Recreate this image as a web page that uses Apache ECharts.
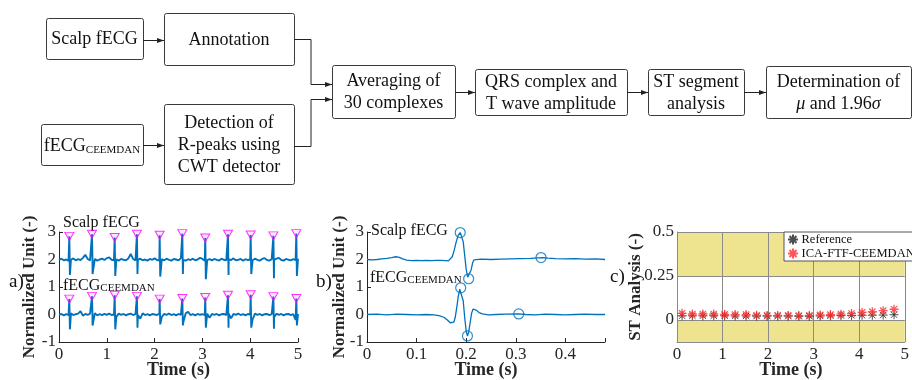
<!DOCTYPE html>
<html>
<head>
<meta charset="UTF-8">
<title>fECG ST analysis</title>
<script src="https://cdn.jsdelivr.net/npm/echarts@6/dist/echarts.min.js"></script>
<style>
    html, body { margin: 0; padding: 0; background: #fff; }
    #chart { width: 912px; height: 380px; }
</style>
</head>
<body>

<div id="chart"></div>

<script>
// a) 5 s of raw traces: baseline samples every 0.05 s plus the R peaks
var baseStep = 0.05;
var scalpBase = [1.98, 2.03, 1.97, 2.00, 1.95, 1.99, 2.04, 1.97, 2.01, 1.98,
    2.06, 2.17, 2.02, 1.97, 1.99, 2.02, 1.96, 2.00, 2.03, 1.98,
    2.05, 2.08, 1.99, 1.97, 2.01, 1.96, 2.02, 1.99, 1.97, 2.04,
    2.20, 2.02, 1.97, 1.99, 2.03, 1.97, 2.00, 1.96, 2.02, 1.99,
    2.04, 1.98, 1.96, 2.01, 1.97, 2.03, 1.99, 1.96, 2.02, 2.00,
    1.97, 2.05, 1.99, 1.96, 2.01, 1.98, 2.03, 1.97, 2.00, 2.06,
    2.02, 1.96, 1.98, 2.01, 1.97, 2.02, 1.99, 1.96, 2.03, 1.99,
    1.97, 2.01, 1.98, 2.04, 1.97, 1.99, 2.02, 1.96, 2.01, 1.98,
    2.00, 1.97, 2.03, 1.99, 1.96, 2.02, 2.05, 1.98, 1.96, 2.01,
    1.99, 2.03, 2.06, 1.98, 1.96, 2.02, 1.99, 1.97, 2.01, 1.98, 2.03];
var ceemdanBase = [0.00, 0.02, -0.03, 0.01, -0.02, 0.04, -0.02, 0.01, 0.03, 0.12,
    -0.04, 0.02, -0.01, 0.03, -0.02, 0.05, -0.03, 0.01, -0.02, 0.02,
    -0.01, 0.03, -0.02, 0.00, -0.08, 0.03, -0.01, 0.02, -0.03, 0.01,
    0.03, -0.02, 0.01, -0.02, -0.15, 0.04, -0.02, 0.01, -0.03, 0.02,
    0.00, -0.02, 0.03, -0.09, 0.02, -0.01, 0.03, -0.02, 0.01, -0.03,
    0.02, -0.01, -0.28, 0.04, 0.10, -0.02, 0.01, -0.03, 0.02, -0.01,
    0.01, -0.02, 0.03, -0.12, 0.02, -0.01, 0.02, -0.03, 0.01, 0.02,
    -0.02, 0.03, -0.14, 0.02, -0.01, 0.03, -0.02, 0.01, -0.03, 0.02,
    0.00, -0.18, 0.03, -0.01, 0.02, -0.03, 0.01, 0.02, -0.02, 0.01,
    -0.10, 0.03, -0.01, 0.02, -0.03, 0.01, 0.02, -0.02, 0.01, -0.20, 0.02];
var beatT = [0.216, 0.690, 1.165, 1.630, 2.106, 2.580, 3.060, 3.535, 4.010, 4.485, 4.965];
var troughT = [0.228, 0.702, 1.177, 1.642, 2.118, 2.592, 3.072, 3.547, 4.022, 4.497, 4.977];
var scalpPeak = [2.84, 2.92, 2.80, 2.92, 2.88, 2.94, 2.78, 2.92, 2.89, 2.86, 2.94];
var scalpTrough = [1.44, 1.47, 1.40, 1.47, 1.38, 1.47, 1.28, 1.44, 1.47, 1.32, 1.40];
var ceemdanPeak = [0.56, 0.66, 0.70, 0.66, 0.56, 0.58, 0.62, 0.70, 0.72, 0.65, 0.58];
var ceemdanTrough = [-0.54, -0.40, -0.54, -0.48, -0.36, -0.40, -0.48, -0.48, -0.48, -0.52, -0.40];

// b) averaged complexes [time, value]
var avgScalp = [[0, 2.0], [0.01, 1.99], [0.02, 2.0], [0.03, 2.02], [0.04, 2.04], [0.05, 2.07],
    [0.058, 2.1], [0.065, 2.08], [0.072, 2.02], [0.08, 1.98], [0.09, 1.96], [0.1, 1.97],
    [0.11, 1.96], [0.12, 1.97], [0.13, 1.96], [0.14, 1.97], [0.15, 1.97], [0.158, 1.96],
    [0.164, 1.95], [0.168, 1.98], [0.172, 2.1], [0.176, 2.35], [0.18, 2.65], [0.184, 2.88],
    [0.188, 2.98], [0.191, 2.93], [0.194, 2.65], [0.197, 2.15], [0.2, 1.65], [0.203, 1.36],
    [0.205, 1.3], [0.207, 1.36], [0.21, 1.62], [0.213, 1.88], [0.216, 1.99], [0.22, 2.02],
    [0.23, 2.01], [0.25, 2.0], [0.27, 2.01], [0.29, 2.02], [0.31, 2.03], [0.33, 2.04],
    [0.345, 2.06], [0.355, 2.07], [0.365, 2.05], [0.38, 2.03], [0.4, 2.02], [0.42, 2.03],
    [0.44, 2.01], [0.46, 2.02], [0.48, 2.0]];
var avgCeemdan = [[0, 0.0], [0.02, 0.01], [0.04, -0.01], [0.06, 0.01], [0.08, 0.0], [0.1, -0.01],
    [0.12, 0.0], [0.135, -0.01], [0.145, -0.04], [0.155, -0.1], [0.162, -0.2], [0.168, -0.3],
    [0.172, -0.33], [0.175, -0.28], [0.178, -0.1], [0.181, 0.25], [0.184, 0.65], [0.187, 0.92],
    [0.189, 0.97], [0.191, 0.9], [0.194, 0.5], [0.197, -0.1], [0.2, -0.6], [0.2026, -0.78],
    [0.205, -0.65], [0.208, -0.3], [0.211, 0.05], [0.214, 0.2], [0.217, 0.22], [0.221, 0.15],
    [0.226, 0.07], [0.233, 0.02], [0.245, -0.01], [0.26, 0.0], [0.28, 0.01], [0.306, 0.02],
    [0.32, 0.0], [0.34, -0.01], [0.36, 0.01], [0.38, 0.0], [0.4, -0.01], [0.42, 0.0],
    [0.44, 0.01], [0.46, 0.0], [0.48, 0.0]];
var avgScalpMarks = [[0.188, 2.98], [0.205, 1.3], [0.351, 2.07]];
var avgCeemdanMarks = [[0.189, 0.97], [0.2026, -0.78], [0.306, 0.02]];

// c) ST analysis
var stT = [0.112, 0.337, 0.568, 0.807, 1.046, 1.277, 1.516, 1.747, 1.979, 2.21, 2.442,
    2.674, 2.905, 3.144, 3.368, 3.6, 3.832, 4.063, 4.288, 4.526, 4.765];
var stReference = [0.024, 0.024, 0.024, 0.024, 0.024, 0.023, 0.023, 0.022, 0.022, 0.022, 0.022,
    0.021, 0.021, 0.023, 0.024, 0.025, 0.026, 0.027, 0.027, 0.028, 0.030];
var stCeemdan = [0.038, 0.034, 0.034, 0.034, 0.032, 0.031, 0.031, 0.027, 0.026, 0.026, 0.026,
    0.025, 0.026, 0.029, 0.031, 0.033, 0.037, 0.043, 0.047, 0.053, 0.061];

var serif = "'Liberation Serif', 'DejaVu Serif', serif";
var ink = '#262626';
var blue = '#0072BD';

function buildTrace(base, peakV, troughV) {
    var pts = base.map(function (v, i) { return [i * baseStep, v]; });
    beatT.forEach(function (t, i) {
        pts.push([t, peakV[i]]);
        pts.push([troughT[i], troughV[i]]);
    });
    pts.sort(function (p, q) { return p[0] - q[0]; });
    return pts;
}
function peaks(values) {
    return beatT.map(function (t, i) { return [t, values[i]]; });
}

// ---- flowchart (graphic elements) ----
var graphics = [];
function textStyle(text, size, align, rich, lh) {
    return { text: text, rich: rich, fontFamily: serif, fontSize: size, fill: '#111',
        lineHeight: lh, align: align, verticalAlign: 'middle',
        textAlign: align, textVerticalAlign: 'middle' };
}
function box(x, y, w, h, text, rich) {
    graphics.push({ type: 'rect', shape: { x: x + 0.5, y: y + 0.5, width: w, height: h, r: 2 },
        style: { fill: '#fff', stroke: '#3a3a3a', lineWidth: 1 } });
    graphics.push({ type: 'text', x: x + w / 2, y: y + h / 2 + 1, style: textStyle(text, 18, 'center', rich, 22) });
}
function arrow(points) {
    var p = points.map(function (q) { return [q[0], q[1] + 0.5]; });
    var end = p[p.length - 1];
    graphics.push({ type: 'polyline', shape: { points: p }, style: { stroke: '#222', lineWidth: 1, fill: null } });
    graphics.push({ type: 'polygon', shape: { points: [[end[0], end[1]], [end[0] - 7, end[1] - 2.5], [end[0] - 7, end[1] + 2.5]] },
        style: { fill: '#222' } });
}
function label(x, y, text, size, rich) {
    graphics.push({ type: 'text', x: x, y: y, style: textStyle(text, size, 'left', rich) });
}
function subRich(size) {
    return {
        m: { fontFamily: serif, fontSize: size, fill: '#111', lineHeight: size + 2, verticalAlign: 'bottom' },
        s: { fontFamily: serif, fontSize: 11, fill: '#111', lineHeight: size + 2, verticalAlign: 'bottom' }
    };
}

box(46, 18, 97, 41, 'Scalp fECG');
box(164, 13, 130, 52, 'Annotation');
box(41, 124, 102, 41, '{m|fECG}{s|CEEMDAN}', subRich(18));
box(164, 104, 130, 80, 'Detection of\nR-peaks using\nCWT detector');
box(332, 65, 123, 53, 'Averaging of\n30 complexes');
box(475, 69, 152, 46, 'QRS complex and\nT wave amplitude');
box(648, 69, 96, 46, 'ST segment\nanalysis');
box(766, 66, 145, 52, 'Determination of\n{i|\u03bc} and 1.96{i|\u03c3}',
    { i: { fontFamily: serif, fontSize: 18, fontStyle: 'italic', fill: '#111' } });

arrow([[143, 40], [164, 40]]);
arrow([[143, 145], [164, 145]]);
arrow([[294, 39], [311, 39], [311, 84], [332, 84]]);
arrow([[294, 146], [311, 146], [311, 99], [332, 99]]);
arrow([[455, 92], [475, 92]]);
arrow([[627, 92], [648, 92]]);
arrow([[744, 92], [766, 92]]);

label(9, 282, 'a)', 19);
label(316, 282, 'b)', 19);
label(610, 277, 'c)', 19);
label(63, 223, 'Scalp fECG', 16);
label(63, 285, '{m|fECG}{s|CEEMDAN}', 16, subRich(16));
label(371, 231, 'Scalp fECG', 16);
label(370, 277, '{m|fECG}{s|CEEMDAN}', 16, subRich(16));

// ---- axes ----
function xAx(grid, min, max, interval, fmt, extra) {
    var ax = {
        type: 'value', gridIndex: grid, min: min, max: max, interval: interval,
        name: 'Time (s)', nameLocation: 'middle', nameGap: 19, nameMoveOverlap: false,
        nameTextStyle: { fontFamily: serif, fontSize: 18, fontWeight: 'bold', color: ink },
        axisLine: { show: true, onZero: false, lineStyle: { color: ink, width: 1 } },
        axisTick: { show: true, inside: true, length: 4, lineStyle: { color: ink } },
        axisLabel: { fontFamily: serif, fontSize: 17, color: ink, margin: 4, formatter: fmt,
            showMinLabel: true, showMaxLabel: true },
        splitLine: { show: false }
    };
    return Object.assign(ax, extra || {});
}
function yAx(grid, min, max, interval, name, gap, fmt, extra) {
    var ax = {
        type: 'value', gridIndex: grid, min: min, max: max, interval: interval,
        name: name, nameLocation: 'middle', nameGap: gap, nameMoveOverlap: false,
        nameTextStyle: { fontFamily: serif, fontSize: 17, fontWeight: 'bold', color: ink },
        axisLine: { show: true, onZero: false, lineStyle: { color: ink, width: 1 } },
        axisTick: { show: true, inside: true, length: 4, lineStyle: { color: ink } },
        axisLabel: { fontFamily: serif, fontSize: 17, color: ink, margin: 3, formatter: fmt,
            showMinLabel: true, showMaxLabel: true },
        splitLine: { show: false }
    };
    return Object.assign(ax, extra || {});
}

var gridLine = '#8a8a8a';

var option = {
    animation: false,
    backgroundColor: '#fff',
    textStyle: { fontFamily: serif },
    graphic: { elements: graphics },
    grid: [
        { left: 59, top: 232, width: 239, height: 111 },
        { left: 367, top: 232, width: 238, height: 111 },
        { left: 677, top: 232, width: 237, height: 111 }
    ],
    xAxis: [
        xAx(0, 0, 5, 1, function (v) { return String(v); }),
        xAx(1, 0, 0.48, 0.1, function (v) {
            if (v === 0) return '0';
            return Math.abs(v * 10 - Math.round(v * 10)) < 1e-6 ? v.toFixed(1) : '';
        }),
        xAx(2, 0, 5, 1, function (v) { return String(v); }, {
            z: 2,
            axisLine: { show: true, onZero: false, lineStyle: { color: gridLine, width: 1 } },
            axisTick: { show: false },
            splitLine: { show: true, lineStyle: { color: gridLine, width: 1 } }
        })
    ],
    yAxis: [
        yAx(0, -1, 3, 1, 'Normalized Unit (-)', 21, function (v) { return String(v); }),
        yAx(1, -1, 3, 1, 'Normalized Unit (-)', 19, function (v) { return String(v); }),
        yAx(2, -0.125, 0.5, 0.125, 'ST Analysis (-)', 33, function (v) {
            if (v === 0) return '0';
            if (v === 0.25) return '0.25';
            if (v === 0.5) return '0.5';
            return '';
        }, {
            z: 2,
            axisLine: { show: true, onZero: false, lineStyle: { color: gridLine, width: 1 } },
            axisTick: { show: false },
            splitLine: { show: true, lineStyle: { color: ['rgba(0,0,0,0)', gridLine], width: 1 } }
        })
    ],
    legend: {
        left: 784, top: 232, orient: 'vertical',
        backgroundColor: '#fff', borderColor: '#555', borderWidth: 1, borderRadius: 0,
        padding: [1, 40, 1, 3], itemGap: 1, itemWidth: 11, itemHeight: 10,
        textStyle: { fontFamily: serif, fontSize: 12.5, color: '#111', padding: [0, 0, 0, -2] },
        data: ['Reference', 'ICA-FTF-CEEMDAN']
    },
    series: [
        { type: 'line', xAxisIndex: 0, yAxisIndex: 0, data: buildTrace(scalpBase, scalpPeak, scalpTrough),
            showSymbol: false, lineStyle: { color: blue, width: 1.9 }, z: 2 },
        { type: 'line', xAxisIndex: 0, yAxisIndex: 0, data: buildTrace(ceemdanBase, ceemdanPeak, ceemdanTrough),
            showSymbol: false, lineStyle: { color: blue, width: 1.9 }, z: 2 },
        { type: 'scatter', xAxisIndex: 0, yAxisIndex: 0, data: peaks(scalpPeak).concat(peaks(ceemdanPeak)),
            symbol: 'triangle', symbolRotate: 180, symbolSize: [9, 8],
            itemStyle: { color: 'rgba(255,0,255,0.12)', borderColor: '#ff00ff', borderWidth: 1 }, z: 3 },
        { type: 'line', xAxisIndex: 1, yAxisIndex: 1, data: avgScalp,
            showSymbol: false, lineStyle: { color: blue, width: 1.3 } },
        { type: 'line', xAxisIndex: 1, yAxisIndex: 1, data: avgCeemdan,
            showSymbol: false, lineStyle: { color: blue, width: 1.3 } },
        { type: 'scatter', xAxisIndex: 1, yAxisIndex: 1, data: avgScalpMarks.concat(avgCeemdanMarks),
            symbol: 'circle', symbolSize: 10,
            itemStyle: { color: 'rgba(0,0,0,0)', borderColor: blue, borderWidth: 1.2 } },
        { type: 'scatter', name: 'Reference', xAxisIndex: 2, yAxisIndex: 2, z: 3,
            data: stT.map(function (t, i) { return [t, stReference[i]]; }),
            symbol: 'path://M5 0L5 10M0 5L10 5M1.5 1.5L8.5 8.5M1.5 8.5L8.5 1.5', symbolSize: 9,
            itemStyle: { color: 'rgba(0,0,0,0)', borderColor: '#222', borderWidth: 1 },
            markArea: {
                silent: true,
                itemStyle: { color: '#EEE38E' },
                data: [[{ yAxis: 0.25 }, { yAxis: 0.5 }], [{ yAxis: -0.125 }, { yAxis: 0 }]]
            } },
        { type: 'scatter', name: 'ICA-FTF-CEEMDAN', xAxisIndex: 2, yAxisIndex: 2, z: 4,
            data: stT.map(function (t, i) { return [t, stCeemdan[i]]; }),
            symbol: 'path://M5 0L5 10M0 5L10 5M1.5 1.5L8.5 8.5M1.5 8.5L8.5 1.5', symbolSize: 9,
            itemStyle: { color: 'rgba(0,0,0,0)', borderColor: '#ff2a2a', borderWidth: 1.3 } }
    ]
};

var myChart = echarts.init(document.getElementById('chart'));
myChart.setOption(option);
</script>

</body>
</html>
